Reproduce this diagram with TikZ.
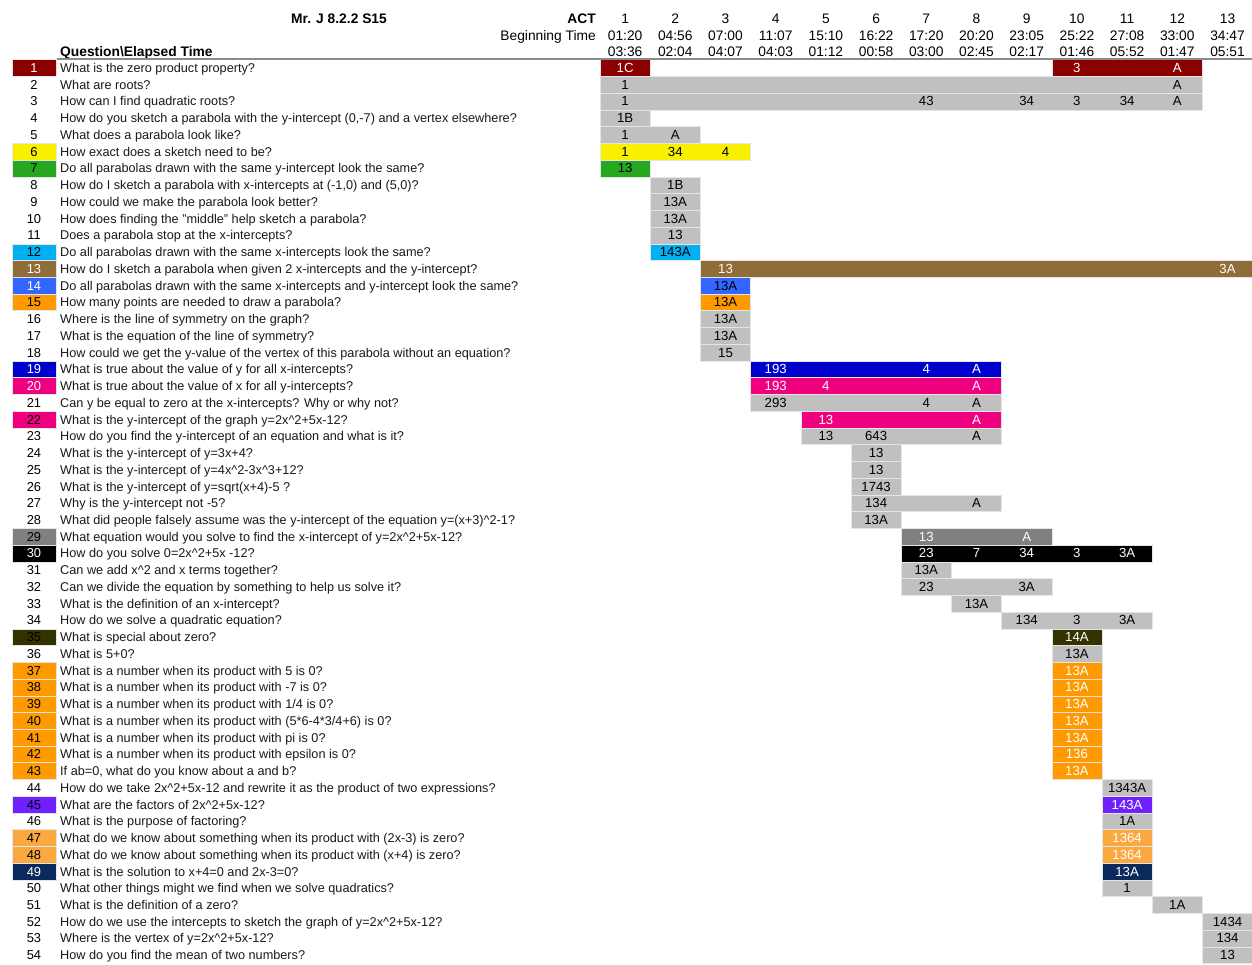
\documentclass[tikz,border=0pt]{standalone}
\usepackage{fontspec}
\setmainfont{Liberation Sans}
\usepackage{tikz}
\definecolor{actred}{RGB}{139,0,0}
\definecolor{cellgray}{RGB}{192,192,192}
\definecolor{actyellow}{RGB}{248,240,0}
\definecolor{actgreen}{RGB}{37,168,32}
\definecolor{actsky}{RGB}{0,176,240}
\definecolor{actbrown}{RGB}{144,108,56}
\definecolor{actblue}{RGB}{51,102,255}
\definecolor{actorange}{RGB}{255,153,0}
\definecolor{actroyal}{RGB}{0,0,204}
\definecolor{actpink}{RGB}{238,0,127}
\definecolor{actdark}{RGB}{128,128,128}
\definecolor{actolive}{RGB}{51,51,0}
\definecolor{actpurple}{RGB}{112,32,255}
\definecolor{actpeach}{RGB}{252,168,64}
\definecolor{actnavy}{RGB}{10,42,92}
\newcommand{\upc}{\textasciicircum}

\begin{document}
\begin{tikzpicture}[
  x=1pt, y=-1pt,
  hd/.style={font=\fontsize{13.8}{16}\selectfont, inner sep=0pt, anchor=base},
  hdb/.style={hd, font=\fontsize{13.8}{16}\selectfont\bfseries},
  qtxt/.style={font=\fontsize{12.7}{15}\selectfont, inner sep=0pt, anchor=base west, text=black!90},
  qnum/.style={font=\fontsize{12.9}{15}\selectfont, inner sep=0pt, anchor=base},
  val/.style={font=\fontsize{13.2}{15}\selectfont, inner sep=0pt, anchor=base},
  bar/.style={draw=black!10, line width=0.5pt}
]
\useasboundingbox (0,0) rectangle (1252,964);

% Header
\node[hdb] (title) at (339,23.5) {Mr. J 8.2.2 S15};
\node[hdb, anchor=base east] (act) at (596,23.5) {ACT};
\node[hd, anchor=base east] (begin) at (596,40.5) {Beginning Time};
\node[hdb, anchor=base west] (qhead) at (60,56.5) {Question\textbackslash Elapsed Time};
\foreach \k/\s/\e in {1/01:20/03:36, 2/04:56/02:04, 3/07:00/04:07, 4/11:07/04:03,
    5/15:10/01:12, 6/16:22/00:58, 7/17:20/03:00, 8/20:20/02:45, 9/23:05/02:17,
    10/25:22/01:46, 11/27:08/05:52, 12/33:00/01:47, 13/34:47/05:51} {
  \node[hd] (h\k) at ({600+(\k-0.5)*50.2},23.5) {\k};
  \node[hd] (s\k) at ({600+(\k-0.5)*50.2},40.5) {\s};
  \node[hd] (e\k) at ({600+(\k-0.5)*50.2},56.5) {\e};
}

% Number cells
\foreach \r/\c in {1/actred, 6/actyellow, 7/actgreen, 12/actsky, 13/actbrown, 14/actblue,
    15/actorange, 19/actroyal, 20/actpink, 22/actpink, 29/actdark, 30/black, 35/actolive,
    37/actorange, 38/actorange, 39/actorange, 40/actorange, 41/actorange, 42/actorange,
    43/actorange, 45/actpurple, 47/actpeach, 48/actpeach, 49/actnavy}
  \path[bar, fill=\c] (12,{59.63+(\r-1)*16.74}) rectangle (56,{59.63+\r*16.74});

% ACT bars
\foreach \r/\a/\b/\c in {1/1/1/actred, 1/10/12/actred, 2/1/12/cellgray, 3/1/12/cellgray,
    4/1/1/cellgray, 5/1/2/cellgray, 6/1/3/actyellow, 7/1/1/actgreen, 8/2/2/cellgray,
    9/2/2/cellgray, 10/2/2/cellgray, 11/2/2/cellgray, 12/2/2/actsky, 13/3/13/actbrown,
    14/3/3/actblue, 15/3/3/actorange, 16/3/3/cellgray, 17/3/3/cellgray, 18/3/3/cellgray,
    19/4/8/actroyal, 20/4/8/actpink, 21/4/8/cellgray, 22/5/8/actpink, 23/5/8/cellgray,
    24/6/6/cellgray, 25/6/6/cellgray, 26/6/6/cellgray, 27/6/8/cellgray, 28/6/6/cellgray,
    29/7/9/actdark, 30/7/11/black, 31/7/7/cellgray, 32/7/9/cellgray, 33/8/8/cellgray,
    34/9/11/cellgray, 35/10/10/actolive, 36/10/10/cellgray, 37/10/10/actorange,
    38/10/10/actorange, 39/10/10/actorange, 40/10/10/actorange, 41/10/10/actorange,
    42/10/10/actorange, 43/10/10/actorange, 44/11/11/cellgray, 45/11/11/actpurple,
    46/11/11/cellgray, 47/11/11/actpeach, 48/11/11/actpeach, 49/11/11/actnavy,
    50/11/11/cellgray, 51/12/12/cellgray, 52/13/13/cellgray, 53/13/13/cellgray,
    54/13/13/cellgray}
  \path[bar, fill=\c] ({600+(\a-1)*50.2},{59.63+(\r-1)*16.74}) rectangle ({600+\b*50.2},{59.63+\r*16.74});

\draw[black!45, line width=1.6pt] (57,59) -- (1252,59);

% Values in the bars
\foreach \r/\k/\v/\t in {1/1/1C/white, 1/10/3/white, 1/12/A/white, 2/1/1/black, 2/12/A/black,
    3/1/1/black, 3/7/43/black, 3/9/34/black, 3/10/3/black, 3/11/34/black, 3/12/A/black,
    4/1/1B/black, 5/1/1/black, 5/2/A/black, 6/1/1/black, 6/2/34/black, 6/3/4/black,
    7/1/13/black, 8/2/1B/black, 9/2/13A/black, 10/2/13A/black, 11/2/13/black,
    12/2/143A/black, 13/3/13/white, 13/13/3A/white, 14/3/13A/black, 15/3/13A/black,
    16/3/13A/black, 17/3/13A/black, 18/3/15/black, 19/4/193/white, 19/7/4/white,
    19/8/A/white, 20/4/193/white, 20/5/4/white, 20/8/A/white, 21/4/293/black,
    21/7/4/black, 21/8/A/black, 22/5/13/white, 22/8/A/white, 23/5/13/black,
    23/6/643/black, 23/8/A/black, 24/6/13/black, 25/6/13/black, 26/6/1743/black,
    27/6/134/black, 27/8/A/black, 28/6/13A/black, 29/7/13/white, 29/9/A/white,
    30/7/23/white, 30/8/7/white, 30/9/34/white, 30/10/3/white, 30/11/3A/white,
    31/7/13A/black, 32/7/23/black, 32/9/3A/black, 33/8/13A/black, 34/9/134/black,
    34/10/3/black, 34/11/3A/black, 35/10/14A/white, 36/10/13A/black, 37/10/13A/white,
    38/10/13A/white, 39/10/13A/white, 40/10/13A/white, 41/10/13A/white,
    42/10/136/white, 43/10/13A/white, 44/11/1343A/black, 45/11/143A/white,
    46/11/1A/black, 47/11/1364/white, 48/11/1364/white, 49/11/13A/white,
    50/11/1/black, 51/12/1A/black, 52/13/1434/black, 53/13/134/black, 54/13/13/black}
  \node[val, text=\t] (v\r-\k) at ({600+(\k-0.5)*50.2},{72.5+(\r-1)*16.74}) {\v};

% Questions
\foreach \r/\t/\q in {
    1/white/{What is the zero product property?},
    2/black/{What are roots?},
    3/black/{How can I find quadratic roots?},
    4/black/{How do you sketch a parabola with the y-intercept (0,-7) and a vertex elsewhere?},
    5/black/{What does a parabola look like?},
    6/black/{How exact does a sketch need to be?},
    7/black/{Do all parabolas drawn with the same y-intercept look the same?},
    8/black/{How do I sketch a parabola with x-intercepts at (-1,0) and (5,0)?},
    9/black/{How could we make the parabola look better?},
    10/black/{How does finding the "middle" help sketch a parabola?},
    11/black/{Does a parabola stop at the x-intercepts?},
    12/black/{Do all parabolas drawn with the same x-intercepts look the same?},
    13/white/{How do I sketch a parabola when given 2 x-intercepts and the y-intercept?},
    14/white/{Do all parabolas drawn with the same x-intercepts and y-intercept look the same?},
    15/black/{How many points are needed to draw a parabola?},
    16/black/{Where is the line of symmetry on the graph?},
    17/black/{What is the equation of the line of symmetry?},
    18/black/{How could we get the y-value of the vertex of this parabola without an equation?},
    19/white/{What is true about the value of y for all x-intercepts?},
    20/white/{What is true about the value of x for all y-intercepts?},
    21/black/{Can y be equal to zero at the x-intercepts? Why or why not?},
    22/black/{What is the y-intercept of the graph y=2x\upc 2+5x-12?},
    23/black/{How do you find the y-intercept of an equation and what is it?},
    24/black/{What is the y-intercept of y=3x+4?},
    25/black/{What is the y-intercept of y=4x\upc 2-3x\upc 3+12?},
    26/black/{What is the y-intercept of y=sqrt(x+4)-5 ?},
    27/black/{Why is the y-intercept not -5?},
    28/black/{What did people falsely assume was the y-intercept of the equation y=(x+3)\upc 2-1?},
    29/black/{What equation would you solve to find the x-intercept of y=2x\upc 2+5x-12?},
    30/white/{How do you solve 0=2x\upc 2+5x -12?},
    31/black/{Can we add x\upc 2 and x terms together?},
    32/black/{Can we divide the equation by something to help us solve it?},
    33/black/{What is the definition of an x-intercept?},
    34/black/{How do we solve a quadratic equation?},
    35/black/{What is special about zero?},
    36/black/{What is 5+0?},
    37/black/{What is a number when its product with 5 is 0?},
    38/black/{What is a number when its product with -7 is 0?},
    39/black/{What is a number when its product with 1/4 is 0?},
    40/black/{What is a number when its product with (5*6-4*3/4+6) is 0?},
    41/black/{What is a number when its product with pi is 0?},
    42/black/{What is a number when its product with epsilon is 0?},
    43/black/{If ab=0, what do you know about a and b?},
    44/black/{How do we take 2x\upc 2+5x-12 and rewrite it as the product of two expressions?},
    45/black/{What are the factors of 2x\upc 2+5x-12?},
    46/black/{What is the purpose of factoring?},
    47/black/{What do we know about something when its product with (2x-3) is zero?},
    48/black/{What do we know about something when its product with (x+4) is zero?},
    49/white/{What is the solution to x+4=0 and 2x-3=0?},
    50/black/{What other things might we find when we solve quadratics?},
    51/black/{What is the definition of a zero?},
    52/black/{How do we use the intercepts to sketch the graph of y=2x\upc 2+5x-12?},
    53/black/{Where is the vertex of y=2x\upc 2+5x-12?},
    54/black/{How do you find the mean of two numbers?}} {
  \node[qnum, text=\t] (n\r) at (34,{72.5+(\r-1)*16.74}) {\r};
  \node[qtxt] (q\r) at (60,{72.5+(\r-1)*16.74}) {\q};
}
\end{tikzpicture}
\end{document}
